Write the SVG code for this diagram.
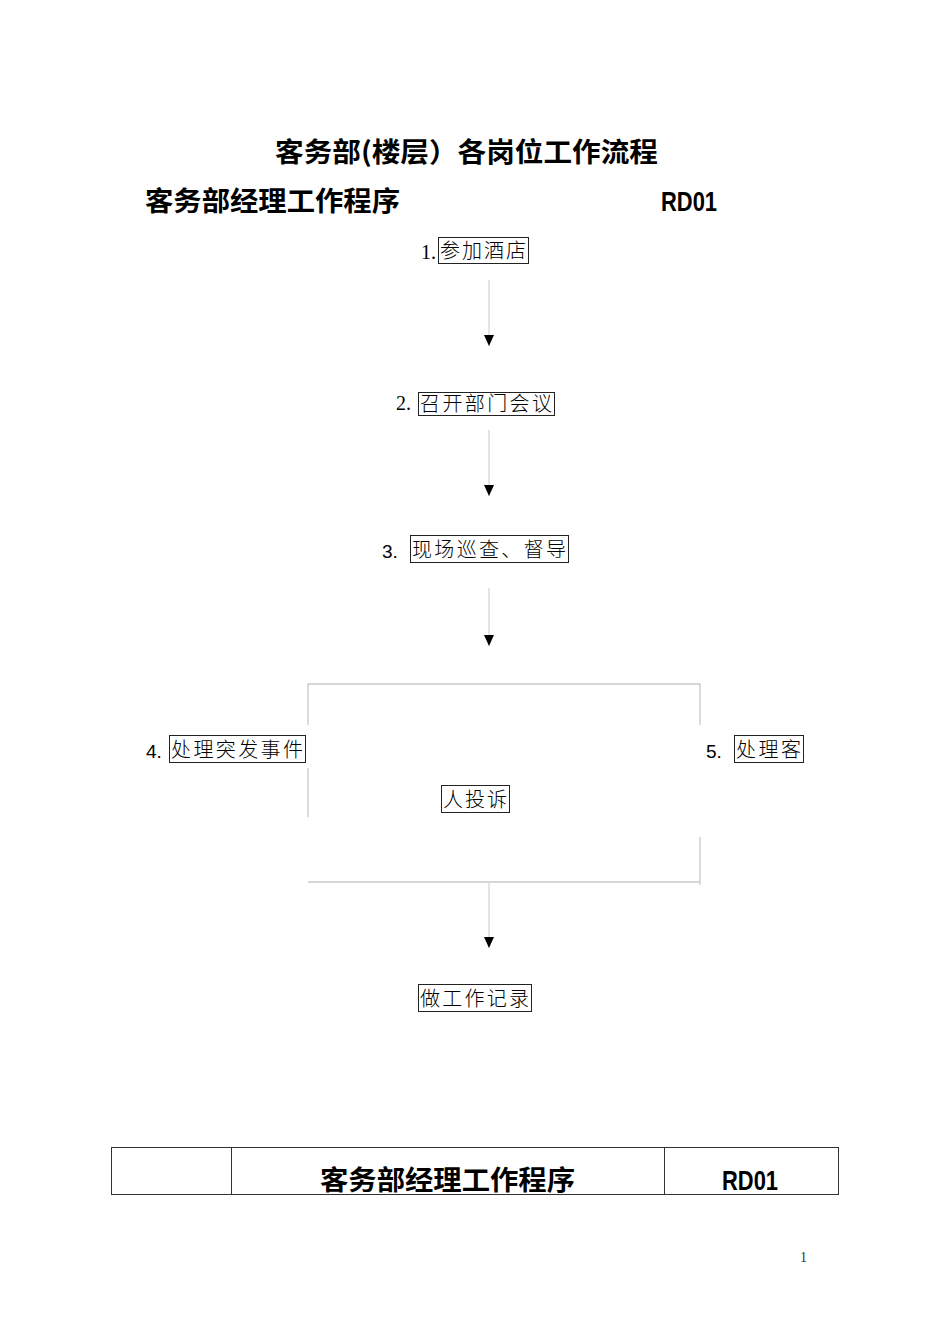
<svg xmlns="http://www.w3.org/2000/svg" width="950" height="1344" viewBox="0 0 950 1344">
<style>
.t{font-family:"Noto Sans CJK SC",sans-serif;font-weight:bold;font-size:27px;fill:#000}
.rd{font-family:"Liberation Sans",sans-serif;font-weight:bold;font-size:28px;fill:#000}
.bx{fill:none;stroke:#222;stroke-width:1}
.lb{font-family:"Noto Sans CJK SC",sans-serif;font-size:20px;font-weight:300;fill:#000}
.ns{font-family:"Liberation Serif",serif;font-size:20px;fill:#000}
.nn{font-family:"Liberation Sans",sans-serif;font-size:19px;fill:#000}
.cn{stroke:#d6d6d6;stroke-width:1.3;fill:none}
.fr{stroke:#c8c8c8;stroke-width:1.3;fill:none}
.tb{stroke:#333;stroke-width:1;fill:none}
</style>
<defs>
<marker id="ah" markerWidth="12" markerHeight="10" refX="11" refY="5" orient="auto" markerUnits="userSpaceOnUse">
<path d="M0,0 L11,5 L0,10 Z" fill="#000"/>
</marker>
</defs>
<rect width="950" height="1344" fill="#fff"/>
<g id="title">
<text class="t" x="275" y="162" textLength="383" lengthAdjust="spacingAndGlyphs">客务部(楼层）各岗位工作流程</text>
<text class="t" x="145" y="211" textLength="255" lengthAdjust="spacingAndGlyphs">客务部经理工作程序</text>
<text class="rd" x="661" y="211" textLength="56" lengthAdjust="spacingAndGlyphs">RD01</text>
</g>
<g id="connectors">
<line class="cn" x1="489" y1="280" x2="489" y2="346" marker-end="url(#ah)"/>
<line class="cn" x1="489" y1="430" x2="489" y2="496" marker-end="url(#ah)"/>
<line class="cn" x1="489" y1="588" x2="489" y2="646" marker-end="url(#ah)"/>
<line class="cn" x1="489" y1="883" x2="489" y2="948" marker-end="url(#ah)"/>
<path class="fr" d="M308,725 L308,684 L700,684 L700,725"/>
<path class="fr" d="M308,768 L308,817"/>
<path class="fr" d="M700,837 L700,885"/>
<path class="fr" d="M308,882 L700,882"/>
</g>
<g id="n1">
<text class="ns" x="421" y="259">1.</text>
<rect class="bx" x="438.5" y="237.5" width="90" height="26"/>
<text class="lb" x="440" y="258" textLength="86" lengthAdjust="spacing">参加酒店</text>
</g>
<g id="n2">
<text class="ns" x="396" y="410">2.</text>
<rect class="bx" x="418.5" y="392.5" width="136" height="23"/>
<text class="lb" x="420" y="411" textLength="132" lengthAdjust="spacing">召开部门会议</text>
</g>
<g id="n3">
<text class="nn" x="382" y="558">3.</text>
<rect class="bx" x="410.5" y="535.5" width="158" height="27"/>
<text class="lb" x="412" y="557" textLength="154" lengthAdjust="spacing">现场巡查、督导</text>
</g>
<g id="n4">
<text class="nn" x="146" y="758">4.</text>
<rect class="bx" x="169.5" y="735.5" width="136" height="27"/>
<text class="lb" x="171" y="757" textLength="132" lengthAdjust="spacing">处理突发事件</text>
</g>
<g id="n5">
<text class="nn" x="706" y="758">5.</text>
<rect class="bx" x="734.5" y="735.5" width="69" height="27"/>
<text class="lb" x="736" y="757" textLength="65" lengthAdjust="spacing">处理客</text>
<rect class="bx" x="441.5" y="785.5" width="68" height="27"/>
<text class="lb" x="443" y="807" textLength="64" lengthAdjust="spacing">人投诉</text>
</g>
<g id="n6">
<rect class="bx" x="418.5" y="984.5" width="113" height="27"/>
<text class="lb" x="420" y="1006" textLength="109" lengthAdjust="spacing">做工作记录</text>
</g>
<g id="footer-table">
<rect class="tb" x="111.5" y="1147.5" width="727" height="47"/>
<line class="tb" x1="231.5" y1="1147" x2="231.5" y2="1195"/>
<line class="tb" x1="664.5" y1="1147" x2="664.5" y2="1195"/>
<text class="t" x="320" y="1190" textLength="255" lengthAdjust="spacingAndGlyphs">客务部经理工作程序</text>
<text class="rd" x="722" y="1190" textLength="56" lengthAdjust="spacingAndGlyphs">RD01</text>
</g>
<text x="800" y="1262" font-family="Liberation Serif, serif" font-size="14" fill="#333">1</text>
</svg>
